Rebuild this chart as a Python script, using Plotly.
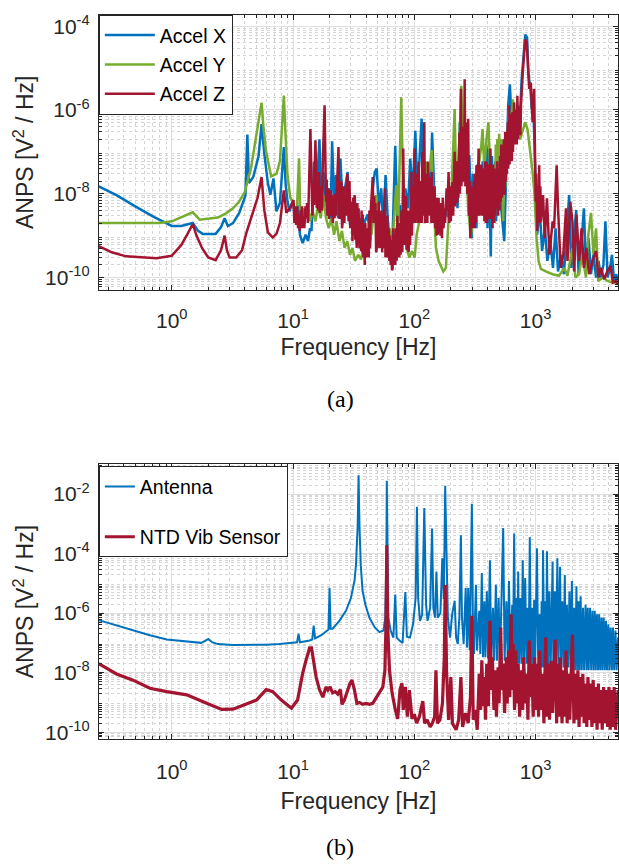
import plotly.graph_objects as go

# ---------------------------------------------------------------------------
# Amplitude noise power spectra, (frequency [Hz], ANPS [V^2/Hz]) pairs
# (rows are sorted by frequency before plotting)
# ---------------------------------------------------------------------------
accel_x = [
    (0.25, 1.5e-8), (0.35, 9.3e-9), (0.5, 5.0e-9), (0.71, 2.8e-9), (1.0, 1.7e-9), (1.2, 1.7e-9),
    (1.49, 2.0e-9), (1.65, 1.3e-9), (1.8, 1.1e-9), (2.3, 1.1e-9), (2.55, 1.6e-9), (2.73, 2.6e-9),
    (2.9, 1.7e-9), (3.2, 2.0e-9), (3.6, 3.5e-9), (4.05, 9e-9), (4.2, 2.6e-7), (4.33, 1.8e-8),
    (4.7, 2.5e-8), (5.2, 8e-8), (5.5, 4.6e-7), (5.8, 9e-8), (6.2, 1.8e-8), (6.5, 9.5e-9),
    (6.9, 2.3e-8), (7.3, 3.8e-9), (7.8, 6e-9), (8.15, 3e-8), (8.4, 1.3e-7), (8.7, 1.6e-8),
    (9.0, 6.6e-9), (9.35, 3.8e-9), (9.9, 6.5e-9), (10.5, 2.6e-9), (10.9, 5.4e-9), (11.4, 1.05e-9),
    (12.0, 6.6e-10), (12.7, 1.05e-9), (13.3, 7.4e-10), (13.8, 1.5e-9), (14.2, 1.3e-9), (14.9, 5.8e-8),
    (15.5, 5.4e-9), (16.5, 2e-7), (17.1, 6.5e-9), (17.8, 3.3e-8), (18.7, 3.8e-9), (19.7, 1.35e-8),
    (20.4, 2.6e-9), (21.0, 1.8e-7), (21.8, 6.5e-9), (22.6, 2.8e-8), (23.5, 2.6e-9), (24.6, 6.9e-8),
    (25.7, 3.8e-9), (26.8, 1.35e-8), (28.2, 3.3e-8), (29.5, 1.8e-9), (30.9, 5.4e-9), (32.3, 8.5e-9),
    (33.6, 6.1e-10), (35.3, 2.6e-9), (37.1, 5.1e-10), (39.0, 2.2e-9), (41.3, 3.2e-9), (43.2, 7.4e-10),
    (45.4, 1.35e-8), (47.2, 3.3e-8), (49.0, 4e-8), (50.9, 4.5e-9), (53.3, 1.35e-8), (55.7, 1.5e-9),
    (57.9, 2.8e-8), (60.3, 2.6e-9), (63.3, 5.1e-10), (66.2, 1.05e-9), (69.6, 1.4e-7), (72.8, 1.5e-9),
    (76.2, 5.4e-9), (80.0, 7.4e-10), (84.3, 1.35e-8), (88.5, 4.5e-9), (92.6, 6.9e-8), (96.9, 9.3e-9),
    (101.9, 3.2e-7), (105.8, 1.35e-8), (110, 5.8e-8), (114.8, 6.2e-7), (119.5, 9.3e-9), (125, 5.8e-8),
    (130.8, 3.3e-8), (135, 3.2e-9), (140, 2.9e-7), (147, 6.5e-9), (154.6, 2.2e-9), (161, 2.6e-9),
    (169, 1.5e-9), (176.6, 2.2e-9), (185, 4.5e-9), (194, 2.2e-9), (206, 1.9e-8), (218, 5.8e-8),
    (227, 4.5e-9), (237, 5.1e-7), (250, 1.9e-8), (260, 2.9e-7), (275, 9.3e-9), (284, 8.3e-8),
    (298, 8.7e-10), (303, 3e-8), (307.5, 2e-9), (312, 9.3e-9), (325, 1.5e-9), (331, 5e-8), (337, 3e-9),
    (343, 3.3e-8), (360, 3.2e-9), (366, 6e-8), (372, 3e-9), (378, 2.3e-8), (386, 4e-9), (393, 1.5e-7),
    (401, 1.5e-9), (410, 1.2e-7), (418, 3e-9), (427, 3.2e-10), (436, 8e-8), (449, 4.5e-9), (458, 2e-9),
    (465, 6e-8), (472, 2.2e-9), (481, 8e-8), (489, 4e-9), (497, 1.9e-8), (505, 5e-9), (512, 6e-8),
    (520, 4.5e-9), (551, 7.4e-10), (574, 5.8e-8), (594, 1.3e-6), (613, 4.1e-6), (635, 5.1e-7),
    (659, 1.5e-6), (685, 2.9e-7), (710, 1.3e-6), (738, 5.1e-7), (767, 5.4e-6), (797, 2.8e-5),
    (822, 6.3e-5), (851, 5.3e-5), (870, 7.8e-6), (905, 3.2e-6), (929, 1.05e-6), (955, 1.5e-6),
    (995, 1.35e-8), (1030, 1.05e-9), (1080, 4.5e-9), (1130, 4.3e-10), (1190, 1.5e-9), (1250, 2.5e-10),
    (1320, 7.4e-10), (1390, 1.7e-10), (1460, 1.5e-9), (1530, 1.4e-10), (1620, 3.5e-10), (1710, 1.2e-10),
    (1790, 8.7e-10), (1890, 9.3e-9), (1970, 1.7e-10), (2080, 1.5e-9), (2160, 4.1e-9), (2260, 1.2e-10),
    (2370, 5.1e-10), (2500, 4.5e-9), (2600, 1.7e-10), (2730, 8.7e-10), (2860, 1.2e-10), (3000, 3.5e-10),
    (3150, 1e-10), (3300, 2.5e-10), (3450, 1e-10), (3620, 2e-10), (3760, 2.2e-9), (3920, 1e-10),
    (4110, 1.7e-10), (4260, 3.5e-10), (4430, 8.3e-11), (4610, 1.2e-10), (4780, 8.3e-11),
]

accel_y = [
    (0.25, 2.0e-9), (0.5, 2.0e-9), (0.8, 2.0e-9), (1.0, 2.2e-9), (1.2, 2.8e-9), (1.49, 3.6e-9),
    (1.7, 2.4e-9), (2.0, 2.5e-9), (2.4, 2.7e-9), (2.8, 3.4e-9), (3.2, 4.5e-9), (3.6, 6.5e-9),
    (4.0, 1.1e-8), (4.5, 4e-8), (5.0, 2.5e-7), (5.35, 8e-7), (5.5, 1.5e-6), (5.7, 4e-7),
    (6.0, 1e-7), (6.6, 2.6e-8), (7.3, 3e-8), (7.8, 6e-8), (8.15, 4e-7), (8.4, 2.2e-6),
    (8.65, 3e-7), (9.0, 2.8e-8), (9.5, 8e-9), (9.9, 6.5e-9), (10.3, 4.5e-9), (10.7, 2.6e-9),
    (11.2, 6.9e-8), (11.5, 2.6e-9), (12.0, 4.5e-9), (12.7, 2.6e-9), (13.3, 5.4e-9), (13.8, 2.2e-9),
    (14.5, 3.8e-9), (15.3, 2.2e-9), (16.1, 5.4e-9), (16.9, 2.6e-9), (17.8, 9.3e-9), (18.7, 2.6e-9),
    (19.7, 1.5e-9), (20.7, 2.6e-9), (21.8, 1.05e-9), (22.8, 2.2e-9), (24.1, 7.4e-10), (25.3, 1.3e-9),
    (26.6, 5.1e-10), (28.0, 7.4e-10), (29.5, 3.5e-10), (30.9, 5.1e-10), (32.4, 2.5e-10), (34.4, 3.5e-10),
    (36.3, 2.7e-10), (38.0, 5.1e-10), (40.0, 4.3e-10), (42.1, 2.2e-9), (44.3, 1.05e-9), (46.6, 4.5e-9),
    (48.5, 9.3e-9), (50.9, 2.2e-9), (53.5, 1.05e-9), (56.2, 2.2e-9), (59.0, 7.4e-10), (62.4, 1.5e-9),
    (65.5, 5.1e-10), (68.5, 3.8e-9), (71.0, 1.6e-8), (73.4, 1.5e-9), (76.2, 5.8e-8), (78.0, 2.0e-6),
    (80.0, 5.8e-8), (83.0, 3.8e-9), (86.1, 5.1e-10), (91.0, 3e-10), (95.6, 4.3e-10), (100.6, 3e-10),
    (104.5, 1.05e-9), (110, 2.2e-9), (115.6, 6.5e-9), (121.4, 1.35e-8), (127.5, 5.8e-8), (132.9, 3.3e-8),
    (138.8, 1.1e-7), (143.2, 9.3e-9), (150.7, 5.1e-10), (158.5, 2.5e-10), (166.8, 1.7e-10), (173.3, 1.4e-10),
    (182, 1.7e-10), (191, 2.2e-9), (200, 4.5e-9), (215, 1.05e-6), (221, 1.9e-8), (232, 5.8e-8),
    (244, 3.8e-6), (252, 4.8e-8), (264, 1.7e-7), (278, 4.5e-9), (292, 8.7e-10), (307, 4.5e-9),
    (322, 2.2e-9), (339, 4.8e-8), (355, 1.2e-7), (365, 3.5e-7), (378, 4e-8), (393, 2e-7),
    (408, 5.1e-7), (424, 1.35e-8), (440, 1.5e-9), (446, 3e-8), (451, 3e-9), (457, 4e-8), (463, 3e-9),
    (469, 1.5e-7), (475, 4.5e-9), (483, 2e-7), (491, 5e-9), (500, 2.7e-7), (520, 1.9e-8), (527, 2e-7),
    (533, 5e-9), (540, 2.2e-9), (550, 6e-8), (560, 1.35e-8), (580, 1.2e-7), (603, 1.05e-6), (627, 2.9e-7),
    (650, 1.8e-6), (675, 1.7e-7), (710, 2.9e-7), (746, 2e-7), (785, 3.5e-7), (820, 5.1e-7),
    (857, 3.5e-7), (896, 1.2e-7), (944, 3.3e-8), (980, 9.3e-9), (1018, 8.7e-10), (1057, 2.5e-10),
    (1105, 1.6e-10), (1210, 1.4e-10), (1380, 1.2e-10), (1560, 1.1e-10), (1720, 1.7e-10), (1830, 1.1e-10),
    (2010, 5.1e-10), (2130, 1e-10), (2280, 1.2e-10), (2420, 3.5e-10), (2600, 1e-10), (2720, 1.05e-9),
    (2860, 3.5e-9), (3000, 3.5e-10), (3150, 1.5e-9), (3280, 8.3e-11), (3600, 1e-10), (3900, 8.3e-11),
    (4260, 7.6e-11), (4780, 6.9e-11),
]

accel_z = [
    # below 10 Hz
    (0.25, 5.6e-10), (0.32, 4e-10), (0.42, 3.2e-10), (0.55, 3e-10), (0.75, 2.9e-10), (1.0, 3.3e-10),
    (1.2, 6e-10), (1.35, 1.1e-9), (1.49, 1.9e-9), (1.6, 1e-9), (1.78, 5e-10), (2.0, 3e-10),
    (2.3, 2.6e-10), (2.55, 4.5e-10), (2.73, 1e-9), (2.85, 4.5e-10), (3.0, 3e-10), (3.4, 3e-10),
    (3.8, 4.5e-10), (4.1, 1.1e-9), (4.6, 3.2e-9), (5.1, 8e-9), (5.5, 2.5e-8), (5.8, 4e-9),
    (6.2, 1.2e-9), (6.8, 9e-10), (7.3, 1.1e-9), (7.8, 2e-9), (8.4, 1.2e-8), (8.8, 3.5e-9),
    (9.4, 4.5e-9),
    # 10 Hz - 200 Hz
    (10.1, 7.1e-9), (10.25, 2.0e-9), (10.45, 5e-9), (10.6, 1.8e-9), (10.8, 5e-9), (11.0, 1.5e-9),
    (11.2, 3.2e-9), (11.35, 1.3e-9), (11.55, 4e-9), (11.7, 1.5e-9), (11.85, 5e-9), (12.05, 1.5e-9),
    (12.2, 2.6e-9), (12.4, 1.5e-9), (12.65, 5e-9), (12.9, 2.6e-9), (13.05, 6e-9), (13.25, 2e-9),
    (13.4, 4.5e-9), (13.9, 3.5e-7), (14.3, 9.3e-9), (14.45, 3e-9), (14.65, 1.2e-8), (14.8, 5.4e-9),
    (15.3, 1.9e-7), (15.7, 4.5e-9), (15.9, 1.5e-8), (16.15, 4e-9), (16.4, 3.3e-8), (16.6, 3.5e-9),
    (16.75, 1.2e-8), (16.9, 4.5e-9), (17.1, 1.5e-8), (17.35, 4e-9), (17.6, 5.8e-8), (18.2, 1.3e-6),
    (18.7, 6.5e-9), (18.95, 2.2e-8), (19.2, 3e-9), (19.5, 1.35e-8), (19.75, 2.5e-9), (19.95, 1e-8),
    (20.2, 4.5e-9), (20.45, 1.2e-8), (20.75, 3e-9), (21.0, 9.3e-9), (21.3, 2e-9), (21.65, 8e-9),
    (22.0, 2.6e-9), (22.25, 1e-8), (22.55, 3e-9), (22.8, 6.5e-9), (23.7, 1.3e-7), (24.15, 2.5e-9),
    (24.45, 1.2e-8), (24.8, 3.8e-9), (25.05, 2e-8), (25.35, 1.5e-9), (25.7, 2.2e-9), (26.1, 1.5e-8),
    (26.5, 2e-9), (26.8, 9.3e-9), (27.3, 3e-9), (27.65, 1.5e-8), (28.0, 3e-8), (28.7, 2.2e-9),
    (29.2, 2e-8), (29.6, 1.5e-9), (30.0, 6.5e-9), (30.35, 1.5e-9), (30.6, 4e-9), (30.9, 7.4e-10),
    (31.3, 8e-9), (31.75, 1e-9), (32.2, 9.3e-9), (32.6, 8e-10), (33.05, 5e-9), (33.5, 5.1e-10),
    (33.9, 6e-9), (34.3, 6e-10), (34.7, 4.5e-9), (35.3, 5e-10), (35.9, 2e-9), (36.4, 4.3e-10),
    (36.75, 4e-9), (37.1, 4e-10), (37.5, 3.2e-9), (38.0, 3e-10), (38.5, 1.5e-9), (39.0, 2e-10),
    (39.4, 2e-9), (39.85, 3e-10), (40.3, 1.5e-9), (40.9, 3e-10), (41.5, 1.5e-9), (42.1, 3e-10),
    (42.6, 4e-9), (43.15, 5e-10), (43.7, 3.8e-9), (45.4, 2.5e-8), (46.0, 2e-9), (46.6, 9e-9),
    (47.2, 2.6e-9), (47.8, 6e-9), (48.4, 4e-10), (49.0, 5.1e-10), (49.6, 4e-9), (50.3, 6e-10),
    (50.9, 6.5e-9), (51.5, 5e-10), (52.2, 3e-9), (52.9, 5.1e-10), (53.6, 4e-9), (54.3, 4e-10),
    (55.0, 3.2e-9), (55.7, 5e-10), (56.5, 4e-9), (57.2, 1.35e-8), (57.8, 3e-10), (58.4, 2e-9),
    (59.0, 3.5e-10), (59.8, 3e-9), (60.6, 3e-10), (61.4, 1.5e-9), (62.2, 2.5e-10), (63.0, 1e-9),
    (63.8, 2e-10), (64.6, 8e-10), (65.4, 1.5e-10), (66.2, 1.6e-10), (67.0, 1.5e-9), (67.9, 2e-10),
    (68.8, 1.05e-9), (69.7, 2e-10), (70.6, 1.5e-9), (71.5, 2.5e-10), (72.4, 3e-9), (73.4, 3e-10),
    (74.3, 1.05e-9), (75.2, 3e-10), (76.2, 2e-9), (77.1, 3.5e-10), (78.3, 4e-9), (79.6, 4e-10),
    (81.0, 1.2e-7), (82.6, 6e-10), (83.4, 9e-9), (84.3, 1.5e-9), (85.4, 9e-9), (86.5, 5e-10),
    (87.6, 5.1e-10), (88.7, 4e-9), (89.8, 4e-10), (91.0, 2.2e-9), (92.2, 6e-10), (93.3, 8e-9),
    (94.5, 3.3e-8), (95.6, 1e-9), (96.9, 1.5e-8), (98.1, 3.8e-9), (99.0, 1.5e-8), (99.8, 2e-9),
    (100.6, 1.2e-7), (101.9, 2e-9), (103.2, 3e-8), (104.5, 6.5e-9), (105.8, 2e-8), (107.1, 2e-9),
    (108.4, 5.8e-8), (109.7, 2e-9), (111.2, 2e-8), (112.6, 4.5e-9), (113.8, 2e-8), (115.0, 2e-9),
    (116.3, 1e-7), (117.5, 3e-9), (119.1, 5e-8), (120.8, 5.1e-7), (122.3, 2e-9), (123.7, 3e-8),
    (125, 9.3e-9), (126.5, 2e-8), (128.0, 2e-9), (129.6, 5.8e-8), (131.3, 3e-9), (133.2, 2.5e-8),
    (135, 3.2e-9), (136.6, 1.2e-8), (138.3, 2e-9), (140, 3.3e-8), (141.6, 2e-9), (143.3, 1.5e-8),
    (145, 2.2e-9), (146.9, 1.5e-8), (148.8, 1.5e-9), (150.7, 6.5e-9), (152.6, 1e-9), (154.5, 8e-9),
    (156.5, 1.05e-9), (158.5, 8e-9), (160.5, 1.5e-9), (162.6, 2.6e-9), (164.7, 1e-9), (166.8, 6e-9),
    (169, 8.7e-10), (171.5, 8e-9), (174.0, 1.5e-9), (176.6, 4.5e-9), (179.2, 2e-9), (181.9, 1e-8),
    (184.6, 1.35e-8), (187.0, 4e-9), (189.3, 2e-8), (191.6, 3.3e-8), (194.5, 2e-9), (197.3, 1.5e-8),
    # 200 Hz - 1.1 kHz
    (200, 2.2e-9), (202, 1.2e-8), (204, 3e-9), (206, 1.9e-8), (209, 3e-9), (212, 4e-8), (215, 1e-7),
    (217, 5e-9), (219, 5e-8), (221, 9.3e-9), (223.5, 6e-8), (226, 6e-9), (228, 5.8e-8), (230.5, 8e-9),
    (233, 8e-8), (235, 2.9e-7), (237.5, 1e-8), (240, 1e-7), (242, 3.2e-6), (244.5, 1.5e-8), (247, 3e-7),
    (250, 4e-8), (253, 4e-7), (256.5, 2e-8), (260, 5.4e-6), (263.5, 1.5e-8), (266.5, 5e-7), (270, 8.3e-8),
    (272.5, 1e-8), (275, 1.5e-7), (278, 6.2e-7), (282, 3e-9), (286, 2e-8), (290, 8.7e-10), (294, 1.5e-8),
    (298, 1.5e-9), (302, 1.35e-8), (306, 1.5e-9), (310, 2e-8), (314, 1.5e-9), (318, 3e-8), (321.5, 2e-9),
    (325, 4.8e-8), (329.5, 3e-9), (334, 4e-8), (339, 1.2e-7), (343, 3e-9), (347.5, 5e-8), (352, 4.5e-9),
    (356, 5e-8), (360.5, 3e-9), (365, 2.8e-8), (369, 3e-9), (373.5, 4e-8), (378, 2.2e-9), (383, 6e-8),
    (388, 2e-9), (393, 5.8e-8), (398, 2e-9), (403, 3e-8), (408, 4.5e-9), (413, 5e-8), (418.5, 2.5e-9),
    (424, 1.2e-7), (429, 3e-9), (434.5, 3e-8), (440, 1.5e-9), (445.5, 5e-8), (451, 2e-9), (457, 4e-8),
    (463, 3e-9), (469, 4e-8), (475, 4.5e-9), (482, 6e-8), (490, 3e-9), (497, 2.3e-8), (503, 4e-9),
    (509, 8e-8), (515, 6.5e-9), (521.5, 1.5e-7), (528, 8e-9), (535, 4.8e-8), (541.5, 1e-8), (548, 2e-7),
    (555, 9.3e-9), (561, 3e-7), (567.5, 2e-8), (574, 1.2e-7), (579, 3e-8), (584.5, 3e-7), (590, 5.1e-7),
    (594, 4e-8), (598.5, 6e-7), (603, 1.3e-6), (610, 5e-8), (617, 8e-7), (624, 1.7e-7), (630, 6e-7),
    (636.5, 6e-8), (643, 8.9e-7), (650, 1e-7), (657.5, 6e-7), (665, 1.5e-6), (671.5, 1.5e-7), (678, 9e-7),
    (685, 2.9e-7), (692, 1e-6), (699.5, 1.5e-7), (707, 2.2e-6), (715, 2e-7), (723.5, 1e-6), (732, 3.5e-7),
    (740.5, 1.2e-6), (749, 2.5e-7), (757, 1.3e-6), (783, 7.8e-6), (811, 2.3e-5), (820, 4.8e-5),
    (845, 4e-5), (864, 1.35e-5), (885, 3.2e-6), (912, 4.5e-6), (944, 5.1e-7), (972, 3.2e-6),
    (1000, 6.5e-9), (1010, 3e-8), (1020, 3e-9), (1030, 1.3e-9), (1043, 1.5e-8), (1056, 2e-9),
    (1070, 4.8e-8), (1082, 2e-9), (1094, 1.5e-8),
    # above 1.1 kHz
    (1105, 2.2e-9), (1150, 9.3e-9), (1190, 8.7e-10), (1240, 7.8e-9), (1300, 3.5e-10), (1380, 2.2e-9),
    (1420, 1.5e-9), (1490, 4.8e-8), (1530, 4.5e-9), (1610, 1.7e-10), (1690, 3.5e-10), (1780, 4.5e-9),
    (1830, 2.5e-10), (1930, 6.5e-9), (2010, 2.2e-9), (2080, 1.4e-10), (2170, 3.2e-9), (2280, 2.5e-10),
    (2390, 1.5e-9), (2500, 1.7e-10), (2620, 5.1e-10), (2760, 1.2e-10), (2940, 2.5e-10), (3150, 4.3e-10),
    (3300, 1e-10), (3450, 1.7e-10), (3680, 9.1e-11), (3900, 1.4e-10), (4140, 1.9e-10), (4330, 7.6e-11),
    (4570, 8.3e-11), (4780, 6.9e-11),
]

antenna = [
    (0.25, 5.8e-7), (0.35, 3.8e-7), (0.48, 2.6e-7), (0.66, 1.8e-7), (0.91, 1.3e-7), (1.3, 1.1e-7),
    (1.75, 1.0e-7), (1.9, 1.2e-7), (2.0, 1.35e-7), (2.15, 1.05e-7), (2.4, 9.1e-8), (3.2, 8.5e-8),
    (4.4, 8.4e-8), (6.0, 8.7e-8), (7.7, 9.1e-8), (9.4, 1.0e-7), (10.8, 1.05e-7), (11.1, 2.0e-7),
    (11.4, 1.05e-7), (13.7, 1.2e-7), (14.4, 1.3e-7), (14.8, 3.8e-7), (15.2, 1.4e-7), (17.1, 1.8e-7),
    (18.8, 2.4e-7), (19.6, 2.8e-7), (20.0, 6.9e-6), (20.4, 3.0e-7), (21.2, 3.0e-7), (24.1, 5.5e-7),
    (27.3, 1.2e-6), (30.0, 3.2e-6), (32.1, 1.2e-5), (33.0, 4.0e-5), (34.1, 8.6e-4), (34.7, 4.3e-2),
    (35.3, 8.6e-4), (36.2, 4.0e-5), (37.4, 5.6e-6), (39.5, 1.9e-6), (42.6, 7.0e-7), (47.2, 3.3e-7),
    (51.6, 2.3e-7), (55.7, 2.6e-7), (57.6, 7.0e-7), (58.8, 7.0e-5), (59.3, 2.8e-2), (59.9, 7.0e-5),
    (61.0, 7.0e-7), (63.8, 2.6e-7), (67.2, 1.5e-7), (69.6, 4.2e-6), (71.5, 1.5e-7), (75.3, 1.2e-7),
    (80.0, 1.0e-7), (84.3, 5.1e-6), (86.8, 1.6e-7), (92.0, 1.5e-7), (97.5, 4.2e-7), (102.5, 3.2e-6),
    (105.0, 3.7e-3), (107.5, 3.2e-6), (111.4, 5.5e-7), (116.0, 9.0e-7), (120.8, 3.4e-3), (125.0, 1.9e-6),
    (128.5, 5.5e-7), (135.0, 1.5e-6), (140.0, 6.9e-4), (143.5, 1.5e-6), (148.0, 7.0e-7), (152.0, 2.5e-5),
    (156.0, 7.0e-7), (164.0, 1.0e-6), (170.0, 6.9e-5), (175.0, 3.0e-6), (179.6, 1.9e-2), (184.6, 6.9e-5),
    (189.0, 7.1e-7), (197.0, 1.5e-7), (205.0, 9.1e-7), (215.0, 2.6e-6), (221.0, 1.5e-7), (228.0, 9.1e-8),
    (235.0, 7.1e-7), (242.0, 4.1e-4), (247.0, 7.1e-7), (255.0, 9.1e-8), (265.0, 6.9e-6), (272.0, 7.0e-8),
    (278.0, 6.9e-6), (286.0, 5.5e-8), (298.0, 4.7e-3), (304.0, 4.2e-7), (310.0, 4.2e-8), (322.0, 8.9e-6),
    (328.0, 5.5e-8), (343.0, 1.2e-6), (350.0, 4.2e-8), (360.0, 2.2e-5), (368.0, 3.3e-8), (378.0, 2.5e-6),
    (385.0, 3.3e-8), (396.0, 5.4e-6), (405.0, 3.0e-8), (420.0, 6.0e-5), (430.0, 2.5e-8), (445.0, 1.5e-6),
    (455.0, 2.5e-8), (470.0, 8.9e-6), (480.0, 2.5e-8), (495.0, 3.2e-6), (508.0, 2.0e-8), (540.0, 7.2e-4),
    (555.0, 2.5e-8), (574.0, 2.5e-6), (590.0, 2.0e-8), (603.0, 1.2e-5), (620.0, 2.0e-8), (641.0, 1.9e-6),
    (650.0, 2.0e-8), (665.0, 4.7e-4), (680.0, 2.0e-8), (697.0, 3.2e-6), (708.0, 2.0e-8), (718.0, 2.5e-5),
    (730.0, 2.0e-8), (750.0, 3.2e-6), (765.0, 2.0e-8), (783.0, 6.0e-5), (800.0, 2.0e-8), (820.0, 1.5e-5),
    (840.0, 2.0e-8), (860.0, 1.5e-6), (875.0, 2.0e-8), (895.0, 3.5e-4), (915.0, 2.0e-8), (940.0, 1.5e-6),
    (955.0, 1.5e-8), (972.0, 2.8e-6), (990.0, 1.5e-8), (1025.0, 1.5e-4), (1050.0, 1.5e-8), (1080.0, 9.1e-7),
    (1100.0, 1.5e-8), (1120.0, 2.5e-6), (1135.0, 1.5e-8), (1150.0, 1.3e-4), (1180.0, 1.5e-8), (1200.0, 2.5e-6),
    (1220.0, 1.5e-8), (1240.0, 1.2e-4), (1270.0, 1.5e-8), (1300.0, 5.4e-6), (1330.0, 1.5e-8), (1380.0, 5.4e-5),
    (1400.0, 1.5e-8), (1440.0, 5.4e-6), (1470.0, 1.5e-8), (1510.0, 6.9e-5), (1540.0, 1.5e-8), (1590.0, 3.6e-5),
    (1620.0, 1.5e-8), (1660.0, 2.5e-6), (1700.0, 1.5e-8), (1740.0, 1.9e-5), (1770.0, 1.5e-8), (1810.0, 1.9e-6),
    (1850.0, 1.5e-8), (1900.0, 5.4e-6), (1940.0, 1.5e-8), (1990.0, 1.2e-5), (2030.0, 1.2e-8), (2080.0, 1.5e-6),
    (2120.0, 1.2e-8), (2170.0, 8.0e-6), (2210.0, 1.2e-8), (2260.0, 2.5e-6), (2300.0, 1.2e-8), (2350.0, 3.7e-6),
    (2400.0, 1.2e-8), (2460.0, 1.5e-6), (2510.0, 1.2e-8), (2580.0, 1.9e-6), (2630.0, 1.2e-8), (2690.0, 1.5e-6),
    (2740.0, 1.2e-8), (2810.0, 1.5e-6), (2870.0, 1.2e-8), (2940.0, 1.2e-6), (3000.0, 1.2e-8), (3070.0, 1.2e-6),
    (3130.0, 1.2e-8), (3200.0, 9.1e-7), (3270.0, 1.2e-8), (3340.0, 9.1e-7), (3410.0, 1.2e-8), (3490.0, 7.1e-7),
    (3560.0, 1.2e-8), (3640.0, 7.1e-7), (3720.0, 1.2e-8), (3800.0, 5.5e-7), (3880.0, 1.2e-8), (3970.0, 4.2e-7),
    (4060.0, 1.2e-8), (4150.0, 3.3e-7), (4250.0, 1.2e-8), (4340.0, 3.3e-7), (4440.0, 1.2e-8), (4550.0, 2.6e-7),
    (4650.0, 1.2e-8), (4780.0, 1.5e-7),
]

ntd_vib = [
    (0.25, 2e-8), (0.35, 9e-9), (0.48, 5.6e-9), (0.66, 3e-9), (0.91, 2.3e-9), (1.33, 1.8e-9),
    (1.94, 9.4e-10), (2.58, 5.8e-10), (3.2, 5.9e-10), (4.1, 8.5e-10), (5.0, 1.2e-9), (6.0, 2.7e-9),
    (6.8, 2.3e-9), (8.0, 1.2e-9), (9.7, 6.4e-10), (10.9, 1.2e-9), (12.0, 9.4e-9), (12.8, 2.6e-8),
    (13.7, 6.8e-8), (14.2, 6.8e-8), (14.7, 2.6e-8), (15.5, 7.1e-9), (16.5, 2.7e-9), (17.6, 1.5e-9),
    (18.7, 3.3e-9), (19.4, 2.6e-9), (20.2, 3.3e-9), (21.2, 2.1e-9), (22.3, 2.3e-9), (23.4, 1.9e-9),
    (24.6, 2.7e-9), (25.3, 8.6e-10), (26.5, 1.2e-9), (28.1, 2.6e-9), (29.5, 4.4e-9), (30.6, 5.6e-9),
    (32.1, 2.6e-9), (33.6, 9.3e-10), (35.3, 1e-9), (37.5, 8.6e-10), (39.9, 9.3e-10), (42.6, 8.6e-10),
    (45.4, 9.3e-10), (48.3, 1.4e-9), (51.6, 2.1e-9), (55.0, 3.3e-9), (57.2, 1.2e-8), (58.4, 4.2e-7),
    (59.3, 1.9e-4), (60.2, 4.2e-7), (62.4, 1.2e-8), (65.5, 2.1e-9), (69.6, 5.8e-10), (72.9, 2.8e-10),
    (76.2, 2.7e-9), (79.1, 4.4e-9), (81.0, 5.6e-10), (84.3, 3.3e-9), (87.6, 3.3e-10), (91.0, 2.6e-9),
    (95.6, 2.8e-10), (100, 4e-10), (104.5, 2e-10), (110, 3.3e-10), (117.4, 1.1e-9), (121.4, 2e-10),
    (127.3, 2.6e-10), (135, 1.5e-10), (140.7, 2e-10), (147, 3.3e-10), (150.7, 1.2e-8), (155, 2e-10),
    (162.6, 2.6e-10), (170.5, 9.3e-10), (176.6, 3.3e-8), (179.6, 9e-6), (184.6, 9.2e-9), (191.6, 2.6e-10),
    (200, 7.1e-9), (206, 2e-10), (221, 1.2e-10), (232, 2.6e-10), (242, 7.1e-9), (250, 1.5e-10),
    (265, 4.4e-10), (278, 2e-10), (290, 1.5e-9), (298, 8.1e-7), (306, 2.6e-10), (318, 5.6e-10),
    (330, 1.2e-10), (343, 9.2e-9), (352, 5.6e-10), (360, 2.6e-8), (369, 7.5e-10), (378, 7.1e-9),
    (386, 2.6e-10), (395, 2e-8), (408, 7.5e-10), (420, 5.5e-7), (433, 2.6e-9), (440, 3.3e-8),
    (453, 5.6e-10), (465, 1.2e-8), (475, 3.3e-10), (490, 1.5e-8), (500, 9.3e-10), (515, 3.3e-7),
    (527, 2.6e-9), (540, 2e-8), (555, 4.4e-10), (574, 3.3e-8), (583, 9.3e-10), (598, 5.5e-8),
    (613, 1.5e-9), (627, 9.1e-7), (641, 2.6e-9), (653, 9.1e-8), (670, 5.6e-10), (685, 5.5e-8),
    (702, 9.3e-10), (718, 2e-8), (738, 3.3e-10), (760, 1.2e-8), (783, 5.6e-10), (797, 3.3e-8),
    (820, 9.3e-10), (845, 9.2e-9), (864, 2.6e-10), (885, 1.2e-7), (905, 1.5e-9), (929, 2e-8),
    (955, 3.3e-10), (980, 3.3e-8), (1000, 5.6e-10), (1030, 2e-8), (1057, 3.3e-10), (1080, 5.5e-8),
    (1110, 5.6e-10), (1140, 9.2e-9), (1170, 2e-10), (1210, 1.5e-7), (1240, 3.3e-10), (1280, 2e-8),
    (1300, 2.6e-10), (1340, 2.5e-8), (1380, 4.4e-10), (1410, 1.2e-8), (1450, 1.3e-7), (1490, 2e-10),
    (1520, 2e-8), (1560, 3.3e-10), (1600, 3.3e-8), (1650, 2e-10), (1690, 1.2e-8), (1730, 3.3e-10),
    (1780, 5.5e-8), (1820, 2e-10), (1860, 9.2e-9), (1910, 2.6e-10), (1970, 2.5e-8), (2010, 1.9e-7),
    (2070, 2e-10), (2120, 9.2e-9), (2170, 2.6e-10), (2230, 1.2e-8), (2280, 1.5e-10), (2340, 7.1e-9),
    (2390, 3.3e-10), (2450, 9.2e-9), (2510, 2e-10), (2580, 4.3e-9), (2640, 1.5e-10), (2700, 7.1e-9),
    (2770, 2.6e-10), (2840, 4.3e-9), (2910, 1.5e-10), (2980, 5.6e-9), (3060, 2e-10), (3130, 3.3e-9),
    (3210, 1.2e-10), (3290, 4.3e-9), (3370, 2e-10), (3460, 2.6e-9), (3540, 1.2e-10), (3630, 3.3e-9),
    (3720, 2e-10), (3820, 2.6e-9), (3920, 1.5e-10), (4020, 3.3e-9), (4120, 1.2e-10), (4230, 2.6e-9),
    (4330, 1.5e-10), (4440, 3.3e-9), (4560, 1.2e-10), (4780, 2.6e-9),
]

# Axis tick positions and labels
freq_ticks = [1, 10, 100, 1000]
freq_tick_text = ["10<sup>0</sup>", "10<sup>1</sup>", "10<sup>2</sup>", "10<sup>3</sup>"]
psd_ticks_a = [1e-10, 1e-8, 1e-6, 1e-4]
psd_tick_text_a = ["10<sup>-10</sup>", "10<sup>-8</sup>", "10<sup>-6</sup>", "10<sup>-4</sup>"]
psd_ticks_b = [1e-10, 1e-8, 1e-6, 1e-4, 1e-2]
psd_tick_text_b = ["10<sup>-10</sup>", "10<sup>-8</sup>", "10<sup>-6</sup>", "10<sup>-4</sup>", "10<sup>-2</sup>"]

# ---------------------------------------------------------------------------
BLUE, GREEN, RED = "#0072BD", "#77AC30", "#A2142F"
AXIS_GRAY = "#262626"
SANS = "Liberation Sans, Arial, Helvetica, sans-serif"
SERIF = "Liberation Serif, DejaVu Serif, serif"
W, H = 619, 868


def unzip(pairs):
    pairs = sorted(pairs)
    return [p[0] for p in pairs], [p[1] for p in pairs]


fig = go.Figure()

for name, series, color, width, grp in [
    ("Accel X", accel_x, BLUE, 2.5, "gx"),
    ("Accel Y", accel_y, GREEN, 2.5, "gy"),
    ("Accel Z", accel_z, RED, 2.5, "gz"),
]:
    f, v = unzip(series)
    fig.add_trace(go.Scatter(x=f, y=v, mode="lines", name=name,
                             line=dict(color=color, width=width),
                             xaxis="x", yaxis="y", legend="legend", legendgroup=grp))

for name, series, color, width, grp in [
    ("Antenna", antenna, BLUE, 2.0, "ga"),
    ("NTD Vib Sensor", ntd_vib, RED, 3.2, "gn"),
]:
    f, v = unzip(series)
    fig.add_trace(go.Scatter(x=f, y=v, mode="lines", name=name,
                             line=dict(color=color, width=width),
                             xaxis="x2", yaxis="y2", legend="legend2", legendgroup=grp))


def minor_vals(lo_exp, hi_exp):
    return [m * 10.0 ** e for e in range(lo_exp, hi_exp) for m in range(2, 10)]


def log_axis(rng, tickvals, ticktext, minor_range, domain, anchor, title, standoff, label_gap):
    return dict(
        type="log", range=rng, domain=domain, anchor=anchor,
        tickmode="array", tickvals=tickvals, ticktext=ticktext,
        ticks="inside", ticklen=5, tickcolor=AXIS_GRAY, tickwidth=1,
        tickfont=dict(family=SANS, size=21, color=AXIS_GRAY),
        ticklabelstandoff=label_gap,
        showline=True, linecolor=AXIS_GRAY, linewidth=1, mirror="ticks",
        showgrid=True, gridcolor="#dedede", gridwidth=1,
        minor=dict(tickmode="array", tickvals=minor_vals(*minor_range),
                   ticks="inside", ticklen=3, tickcolor=AXIS_GRAY,
                   showgrid=True, gridcolor="#d4d4d4", griddash="dot", gridwidth=1),
        title=dict(text=title, font=dict(family=SANS, size=23, color=AXIS_GRAY), standoff=standoff),
        zeroline=False,
    )


x_dom = [99 / W, 1.0]
ya_dom = [1 - 289 / H, 1 - 12 / H]
yb_dom = [1 - 742 / H, 1 - 465 / H]
x_rng = [-0.601, 3.679]
y_title = "ANPS [V<sup>2</sup> / Hz]"

fig.update_layout(
    width=W, height=H,
    margin=dict(l=0, r=0, t=0, b=0),
    paper_bgcolor="white", plot_bgcolor="white",
    xaxis=log_axis(x_rng, freq_ticks, freq_tick_text, (-1, 4), x_dom, "y", "Frequency [Hz]", 8, 12),
    xaxis2=log_axis(x_rng, freq_ticks, freq_tick_text, (-1, 4), x_dom, "y2", "Frequency [Hz]", 10, 14),
    yaxis=log_axis([-10.29, -3.73], psd_ticks_a, psd_tick_text_a, (-11, -3), ya_dom, "x", y_title, 4, 4),
    yaxis2=log_axis([-10.23, -1.0], psd_ticks_b, psd_tick_text_b, (-11, 0), yb_dom, "x2", y_title, 4, 4),
    legend=dict(x=x_dom[0], y=ya_dom[1], tracegroupgap=1, itemwidth=50,
                bgcolor="white", bordercolor=AXIS_GRAY, borderwidth=1,
                font=dict(family=SANS, size=19.5, color="black"),
                xanchor="left", yanchor="top", traceorder="grouped"),
    legend2=dict(x=x_dom[0], y=1 - 467 / H, tracegroupgap=22,
                 bgcolor="white", bordercolor=AXIS_GRAY, borderwidth=1,
                 font=dict(family=SANS, size=19.5, color="black"),
                 xanchor="left", yanchor="top", traceorder="grouped"),
    annotations=[
        dict(text="(a)", x=341 / W, y=1 - 399 / H, xref="paper", yref="paper", showarrow=False,
             xanchor="center", yanchor="middle",
             font=dict(family=SERIF, size=24, color="black")),
        dict(text="(b)", x=341 / W, y=1 - 851 / H, xref="paper", yref="paper", showarrow=False,
             xanchor="center", yanchor="middle",
             font=dict(family=SERIF, size=24, color="black")),
    ],
)

fig.write_html("out.html")
